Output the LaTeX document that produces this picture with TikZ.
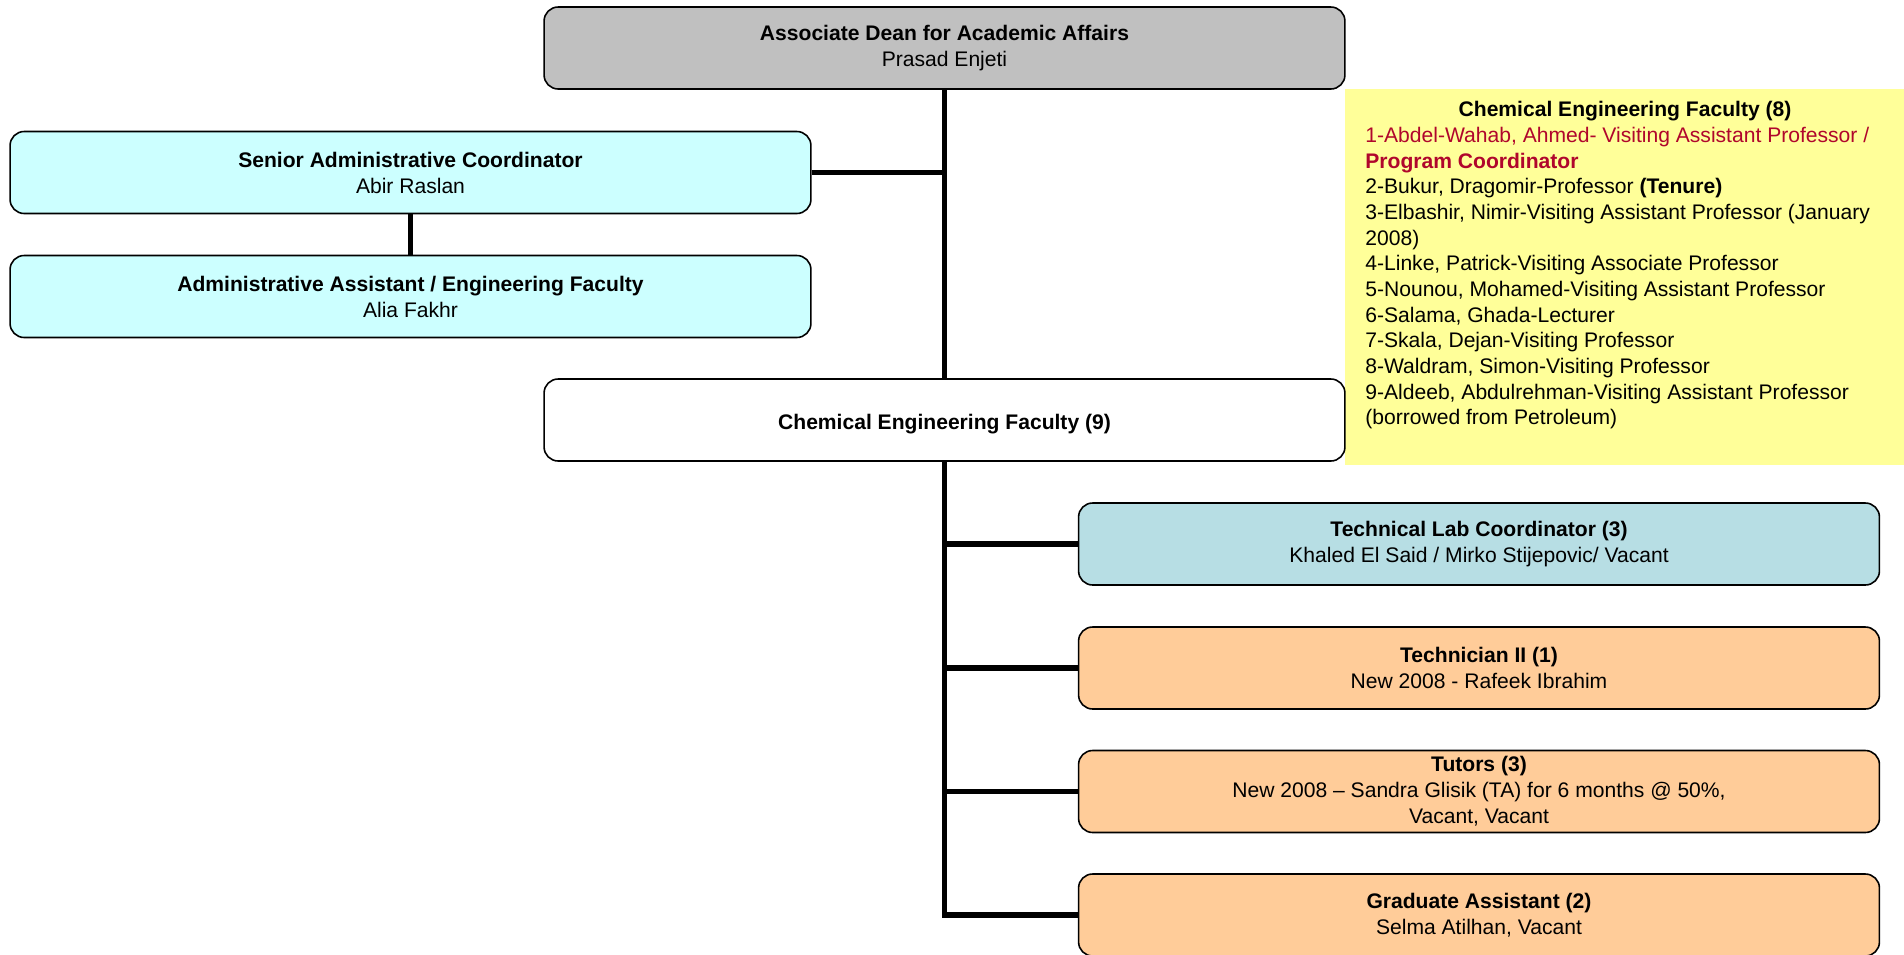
\documentclass[tikz,border=0pt]{standalone}
\usepackage{fontspec}
\setmainfont{Liberation Sans}
\usetikzlibrary{positioning}
\definecolor{deangray}{RGB}{192,192,192}
\definecolor{admincyan}{RGB}{204,255,255}
\definecolor{labblue}{RGB}{183,222,228}
\definecolor{staffpeach}{RGB}{255,204,153}
\definecolor{listyellow}{RGB}{255,255,153}
\definecolor{coordred}{RGB}{176,6,44}

\begin{document}
\begin{tikzpicture}[x=0.02cm,y=-0.02cm,
  box/.style={draw=black,line width=0.9pt,rounded corners=8pt,minimum width=16.02cm,
    minimum height=1.64cm,align=center,inner sep=0pt,font=\fontsize{12}{14.8}\selectfont,
    execute at begin node={\rule{0pt}{13pt}}},
  link/.style={line width=3.4pt}]
  \useasboundingbox (0,0) rectangle (1904,954);
  \fill[listyellow] (1345,89) rectangle (1904,465);

  \node[box,fill=deangray] (dean) at (944.5,48) {\textbf{Associate Dean for Academic Affairs}\\Prasad Enjeti};
  \node[box,fill=admincyan] (senior) at (410.5,172.5) {\textbf{Senior Administrative Coordinator}\\Abir Raslan};
  \node[box,fill=admincyan] (admin) at (410.5,296.5) {\textbf{Administrative Assistant / Engineering Faculty}\\Alia Fakhr};
  \node[box,fill=white] (chemfac) at (944.5,420) {\textbf{Chemical Engineering Faculty (9)}};
  \node[box,fill=labblue] (lab) at (1479,544) {\textbf{Technical Lab Coordinator (3)}\\Khaled El Said / Mirko Stijepovic/ Vacant};
  \node[box,fill=staffpeach] (tech) at (1479,668) {\textbf{Technician II (1)}\\New 2008 - Rafeek Ibrahim};
  \node[box,fill=staffpeach] (tutors) at (1479,791.5) {\textbf{Tutors (3)}\\New 2008 -- Sandra Glisik (TA) for 6 months @ 50\%,\\Vacant, Vacant};
  \node[box,fill=staffpeach] (grad) at (1479,915) {\textbf{Graduate Assistant (2)}\\Selma Atilhan, Vacant};

  % faculty list
  \node[font=\fontsize{12}{14.8}\selectfont\bfseries,inner sep=0pt] (listtitle) at (1625,111.5) {Chemical Engineering Faculty (8)};
  \node[font=\fontsize{12}{14.6}\selectfont,align=left,anchor=north west,inner sep=0pt] (chemlist) at (1365,127) {%
    \textcolor{coordred}{1-Abdel-Wahab, Ahmed- Visiting Assistant Professor /}\\
    \textcolor{coordred}{\textbf{Program Coordinator}}\\
    2-Bukur, Dragomir-Professor \textbf{(Tenure)}\\
    3-Elbashir, Nimir-Visiting Assistant Professor (January\\
    2008)\\
    4-Linke, Patrick-Visiting Associate Professor\\
    5-Nounou, Mohamed-Visiting Assistant Professor\\
    6-Salama, Ghada-Lecturer\\
    7-Skala, Dejan-Visiting Professor\\
    8-Waldram, Simon-Visiting Professor\\
    9-Aldeeb, Abdulrehman-Visiting Assistant Professor\\
    (borrowed from Petroleum)};

  % connectors
  \draw[link] (dean.south) -- (chemfac.north);
  \draw[link] (senior.east) -- (senior.east -| dean.south);
  \draw[link] (senior.south) -- (admin.north);
  \draw[link] (chemfac.south) -- (chemfac.south |- grad.west) -- (grad.west);
  \foreach \n in {lab,tech,tutors}
    \draw[link] (\n.west) -- (\n.west -| chemfac.south);
\end{tikzpicture}
\end{document}
